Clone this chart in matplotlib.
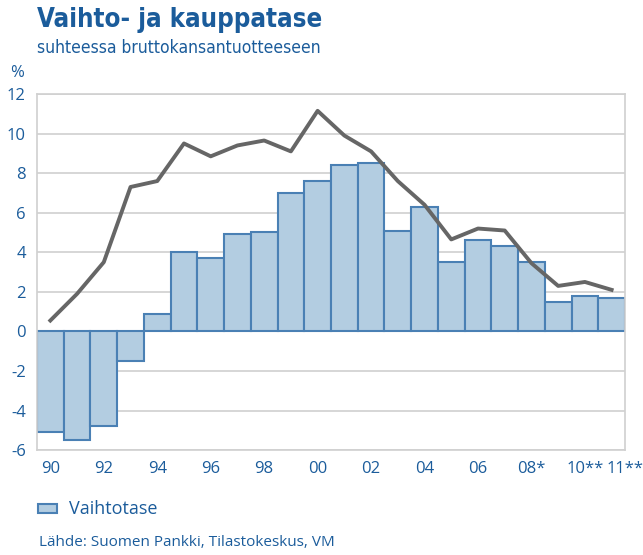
import numpy as np
import matplotlib
matplotlib.use("Agg")
from matplotlib import pyplot as plt
from matplotlib.patches import Rectangle

years = list(range(1990, 2012))
vaihtotase = [-5.1, -5.5, -4.8, -1.5, 0.9, 4.0, 3.7, 4.9, 5.0, 7.0, 7.6,
              8.4, 8.5, 5.1, 6.3, 3.5, 4.6, 4.3, 3.5, 1.5, 1.8, 1.7]
kauppatase = [0.55, 1.9, 3.5, 7.3, 7.6, 9.5, 8.85, 9.4, 9.65, 9.1, 11.15,
              9.9, 9.1, 7.6, 6.4, 4.65, 5.2, 5.1, 3.45, 2.3, 2.5, 2.1]
tick_idx = [0, 2, 4, 6, 8, 10, 12, 14, 16, 18, 20]
tick_labels = ["90", "92", "94", "96", "98", "00", "02", "04", "06", "08*", "10**"]
last_label = "11**"

blue = "#1b5c9b"
fill = "#b3cde1"
edge = "#4a80b4"
grid = "#d0d0d0"

plt.rcParams['font.family'] = ['Open Sans', 'DejaVu Sans']
plt.rcParams['axes.unicode_minus'] = False

fig = plt.figure(figsize=(6.43, 5.55), dpi=100)
ax = fig.add_axes([0.0575, 0.189, 0.9145, 0.6416])

x = np.arange(len(years))
ax.bar(x, vaihtotase, width=1.0, color=fill, edgecolor=edge, linewidth=1.5, zorder=2)
ax.plot(x, kauppatase, color="#666666", linewidth=2.8, zorder=3)

ax.set_xlim(-0.5, len(years) - 0.5)
ax.set_ylim(-6, 12)
ax.set_yticks(range(-6, 13, 2))
ax.yaxis.grid(True, color=grid, linewidth=1.2, zorder=0)
ax.set_axisbelow(True)
for s in ax.spines.values():
    s.set_color(grid)
    s.set_linewidth(1.2)
ax.tick_params(length=0, labelsize=12, colors=blue, pad=8)
ax.set_xticks(tick_idx)
ax.set_xticklabels(tick_labels)
# last label squeezed to the right edge like in the original
ax.annotate(last_label, xy=(len(years) - 1, 0), xycoords=ax.get_xaxis_transform(),
            xytext=(-4, -8), textcoords="offset points", ha="left", va="top",
            fontsize=12, color=blue)

fig.text(0.0575, 0.952, "Vaihto- ja kauppatase", fontsize=18.5, fontweight="bold",
         color=blue, family=["DejaVu Sans"], stretch="condensed")
fig.text(0.0575, 0.904, "suhteessa bruttokansantuotteeseen", fontsize=12.5,
         color=blue, family=["DejaVu Sans"], stretch="condensed")
fig.text(0.016, 0.862, "%", fontsize=12, color=blue)

fig.patches.append(Rectangle((0.059, 0.076), 0.03, 0.015, transform=fig.transFigure,
                             facecolor=fill, edgecolor=edge, linewidth=1.5))
fig.text(0.108, 0.083, "Vaihtotase", fontsize=13, color=blue, va="center")
fig.text(0.06, 0.017, "Lähde: Suomen Pankki, Tilastokeskus, VM", fontsize=11, color=blue)

fig.savefig("out.png", dpi=100)
